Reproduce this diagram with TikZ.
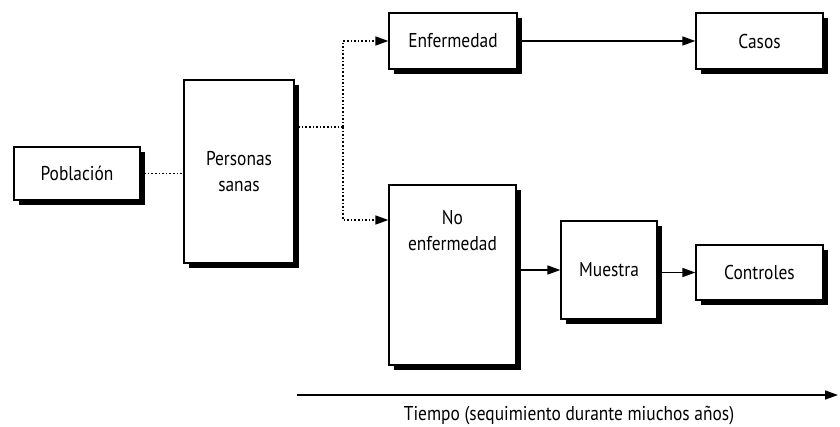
\documentclass[tikz,border=0pt]{standalone}
\usepackage{fontspec}
\setmainfont{PT Sans}[FakeStretch=0.87]
\usetikzlibrary{positioning,shadows,arrows.meta}

\begin{document}
\begin{tikzpicture}[x=1pt,y=-1pt,
  font=\fontsize{20}{26}\selectfont,
  box/.style={draw,line width=1.3pt,fill=white,align=center,inner sep=0pt,
    drop shadow={shadow xshift=5pt,shadow yshift=-5pt,fill=black,opacity=1}},
  dots/.style={dash pattern=on 1.6pt off 2pt,line width=1.6pt},
  solid line/.style={line width=1.6pt},
  tip/.style={-{Triangle[length=13pt,width=9pt]}}]
  \useasboundingbox (0,0) rectangle (840,426);

  \node (pob) [box,minimum width=126pt,minimum height=53pt] at (77,173.5) {Población};
  \node (pers) [box,minimum width=110pt,minimum height=183pt] at (239,171.5) {Personas\\sanas};
  \node (enf) [box,minimum width=128pt,minimum height=56pt] at (453,41) {Enfermedad};
  \node (casos) [box,minimum width=127pt,minimum height=56pt] at (759.5,41) {Casos};
  \node (noenf) [box,minimum width=127pt] at (452.5,275)
    {\parbox[c][180pt][t]{120pt}{\vspace*{25pt}\centering No\\enfermedad}};
  \node (muestra) [box,minimum width=96pt,minimum height=98pt] at (609,270) {Muestra};
  \node (ctrl) [box,minimum width=127pt,minimum height=55pt] at (759.5,272.5) {Controles};

  \coordinate (split) at (343,127);
  \coordinate (t0) at (297,395);
  \coordinate (t1) at (838,395);

  \draw[dots] (pob.east) -- (pob.east -| pers.west);
  \draw[dots] (pers.east |- split) -- (split);
  \draw[dots,tip] (split) |- (enf.west);
  \draw[dots,tip] (split) |- ([yshift=55pt]noenf.west);

  \path[solid line,tip]
    (enf) edge (casos)
    (noenf.east |- muestra) edge (muestra)
    (muestra.east |- ctrl) edge (ctrl.west)
    (t0) edge (t1);

  \node (tiempo) at (569,416) {Tiempo (sequimiento durante miuchos años)};
\end{tikzpicture}
\end{document}
